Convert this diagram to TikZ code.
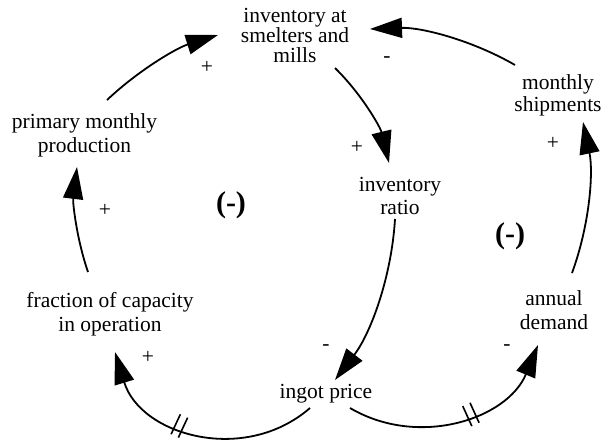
\documentclass[tikz,border=0pt]{standalone}
\usepackage{fontspec}
\setmainfont{Liberation Serif}
\usetikzlibrary{arrows.meta,decorations.markings}
\begin{document}
\begin{tikzpicture}[x=1pt,y=1pt,
  var/.style={align=center,inner sep=0pt,font=\fontsize{21.5}{24}\selectfont},
  sign/.style={inner sep=0pt,font=\fontsize{21.5}{24}\selectfont},
  loopmark/.style={inner sep=0pt,font=\fontsize{30}{32}\selectfont\bfseries},
  link/.style={line width=1.8pt,-{Triangle[length=32pt,width=20pt]}},
  delay/.style={postaction={decorate},
    decoration={markings,mark=at position #1 with {
      \draw[line width=1.6pt,-] (-4pt,-11pt) -- (-4pt,11pt) (4pt,-11pt) -- (4pt,11pt);}}}
]
\fill[white] (0,0) rectangle (602,-439);
\useasboundingbox (0,0) rectangle (602,-439);

% variables
\node[var,font=\fontsize{21.5}{20}\selectfont] (inv) at (295,-35) {inventory at\\smelters and\\mills};
\node[var] (prim) at (84.5,-135) {primary monthly\\production};
\node[var] (frac) at (110,-314) {fraction of capacity\\in operation};
\node[var,font=\fontsize{21.5}{23}\selectfont] (ratio) at (400,-196) {inventory\\ratio};
\node[var,font=\fontsize{21.5}{22}\selectfont] (ship) at (558,-95) {monthly\\shipments};
\node[var] (demand) at (554,-310) {annual\\demand};
\node[var] (ingot) at (326,-394) {ingot price};

% causal links
\draw[link] ([shift={(22.5,35)}]prim.center) to[bend left=13,looseness=0.86] ([shift={(-77,0)}]inv.center);
\draw[link] ([shift={(-43,30)}]ship.center) to[bend right=16,looseness=0.87] ([shift={(75,6)}]inv.center);
\draw[link] ([shift={(40,-33)}]inv.center) to[bend left=16,looseness=0.87] ([shift={(-11,33)}]ratio.center);
\draw[link] ([shift={(-5,-23)}]ratio.center) to[bend left=17,looseness=0.87] ([shift={(9,14)}]ingot.center);
\draw[link,delay=0.58] ([shift={(-16,-14)}]ingot.center) to[bend left=57,looseness=1.10] ([shift={(5,-38)}]frac.center);
\draw[link,delay=0.56] ([shift={(24,-14)}]ingot.center) to[bend right=49,looseness=1.03] ([shift={(-16,-35)}]demand.center);
\draw[link] ([shift={(18,37)}]demand.center) to[bend right=16,looseness=0.87] ([shift={(25,-27)}]ship.center);
\draw[link] ([shift={(-22,42)}]frac.center) to[bend left=13,looseness=0.86] ([shift={(-7.5,-32)}]prim.center);

% link polarities
\node[sign] (s1) at (207,-67) {+};
\node[sign] (s2) at (387,-60) {-};
\node[sign] (s3) at (357,-147) {+};
\node[sign] (s4) at (553,-143) {+};
\node[sign] (s5) at (105,-210) {+};
\node[sign] (s6) at (148,-357) {+};
\node[sign] (s7) at (326,-348) {-};
\node[sign] (s8) at (507,-348) {-};

% loop polarities
\node[loopmark] (loopA) at (231,-205) {(-)};
\node[loopmark] (loopB) at (510,-236) {(-)};
\end{tikzpicture}
\end{document}
